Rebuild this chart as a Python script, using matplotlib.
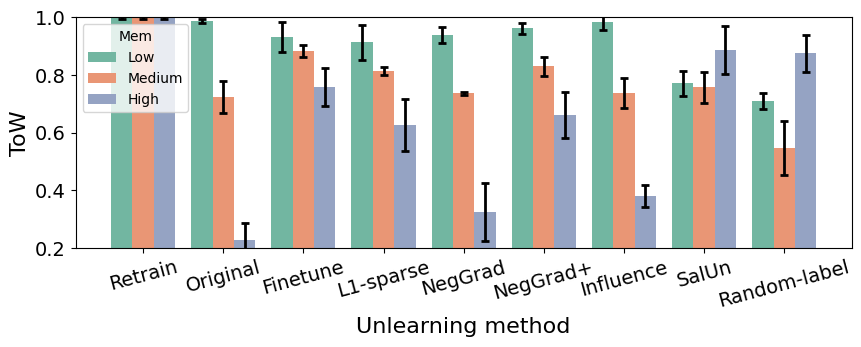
import numpy as np
import matplotlib
matplotlib.use('Agg')
import matplotlib.pyplot as plt

plt.rcParams['font.family'] = 'DejaVu Sans'

# dados
methods = ['Retrain', 'Original', 'Finetune', 'L1-sparse', 'NegGrad',
           'NegGrad+', 'Influence', 'SalUn', 'Random-label']
levels = ['Low', 'Medium', 'High']

low_mean = [1.000, 0.987, 0.932, 0.914, 0.939, 0.963, 0.984, 0.772, 0.710]
low_err = [0.004, 0.007, 0.052, 0.061, 0.027, 0.019, 0.029, 0.043, 0.029]
med_mean = [1.000, 0.724, 0.883, 0.814, 0.736, 0.831, 0.738, 0.758, 0.547]
med_err = [0.004, 0.055, 0.020, 0.013, 0.004, 0.033, 0.052, 0.054, 0.094]
high_mean = [1.000, 0.228, 0.758, 0.627, 0.325, 0.661, 0.381, 0.887, 0.876]
high_err = [0.004, 0.059, 0.066, 0.089, 0.099, 0.081, 0.037, 0.082, 0.064]

colors = ['#72b6a1', '#e99675', '#95a3c3']

fig, ax = plt.subplots(figsize=(8.61, 3.47), dpi=100)
fig.subplots_adjust(left=0.088, right=0.989, top=0.95, bottom=0.285)

x = np.arange(len(methods))
w = 0.8 / 3
series = [(low_mean, low_err), (med_mean, med_err), (high_mean, high_err)]
for i, (m, e) in enumerate(series):
    ax.bar(x + (i - 1) * w, m, width=w, color=colors[i], label=levels[i],
           yerr=e, capsize=3, error_kw=dict(ecolor='black', elinewidth=2, capthick=2))

ax.set_xlim(-0.84, len(methods) - 0.16)
ax.set_ylim(0.2, 1.0)
ax.set_yticks([0.2, 0.4, 0.6, 0.8, 1.0])
ax.tick_params(axis='y', labelsize=14)
ax.set_xticks(x)
ax.set_xticklabels(methods, rotation=15, fontsize=14)
ax.set_ylabel('ToW', fontsize=16)
ax.set_xlabel('Unlearning method', fontsize=16)

ax.legend(title='Mem', loc='upper left', fontsize=10, title_fontsize=10)

plt.savefig('out.png', dpi=100)
